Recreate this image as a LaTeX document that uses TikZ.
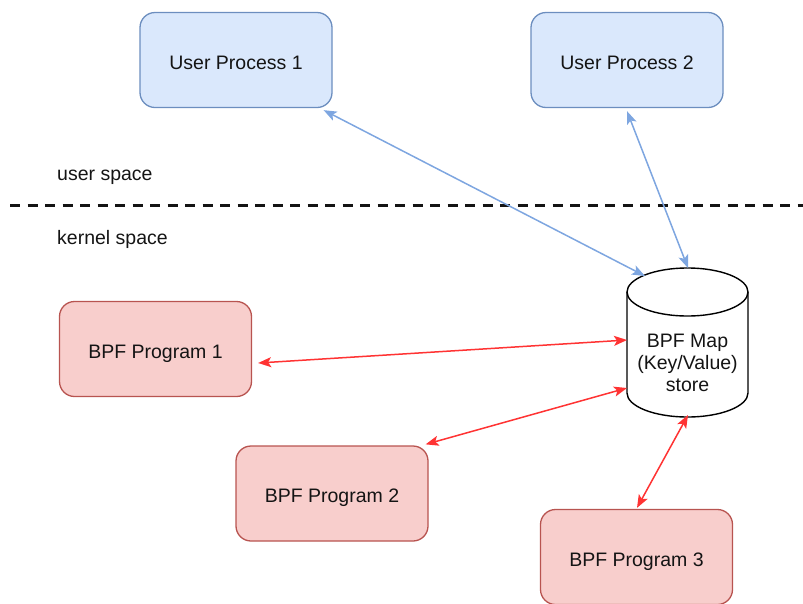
\documentclass[tikz,border=0pt]{standalone}
\usepackage{fontspec}
\setmainfont{Liberation Sans}
\usetikzlibrary{arrows.meta,calc}

\definecolor{userfill}{HTML}{DAE8FC}
\definecolor{userline}{HTML}{6C8EBF}
\definecolor{progfill}{HTML}{F8CECC}
\definecolor{progline}{HTML}{B85450}
\definecolor{bluelink}{HTML}{7EA6E0}
\definecolor{redlink}{HTML}{FF3333}
\definecolor{ink}{HTML}{141414}

\tikzset{
  box/.style={rounded corners=15pt, line width=1.3pt, minimum width=192pt,
    minimum height=95pt, align=center, text=ink, text height=18pt, text depth=0pt,
    font=\fontsize{19.5}{23.5}\selectfont},
  userbox/.style={box, draw=userline, fill=userfill},
  progbox/.style={box, draw=progline, fill=progfill},
  lbl/.style={text=ink, font=\fontsize{19.5}{23.5}\selectfont, anchor=west, inner sep=0pt},
  link/.style={line width=1.5pt, {Stealth[length=13pt,width=10pt,inset=3pt]}-{Stealth[length=13pt,width=10pt,inset=3pt]}},
  bluearrow/.style={link, draw=bluelink, fill=bluelink},
  redarrow/.style={link, draw=redlink, fill=redlink},
}

\begin{document}
\begin{tikzpicture}[x=1pt, y=-1pt]
\useasboundingbox (0,0) rectangle (803,603);

% user-side processes
\node[userbox] (up1) at (236,60) {User Process 1};
\node[userbox] (up2) at (627,60) {User Process 2};

% boundary between user and kernel space
\node[lbl] (ulabel) at (57,177) {user space};
\node[lbl] (klabel) at (57,239) {kernel space};
\coordinate (divL) at (10,205);
\coordinate (divR) at (803,205);
\draw[line width=3pt, dash pattern=on 10pt off 7.5pt, ink] (divL) -- (divR);

% BPF programs
\node[progbox] (p1) at (155.5,349) {BPF Program 1};
\node[progbox] (p2) at (332,493.5) {BPF Program 2};
\node[progbox] (p3) at (636.5,557) {BPF Program 3};

% BPF map drawn as a cylinder
\begin{scope}[line width=1.4pt, draw=black]
  \draw[fill=white] (627,292) -- (627,393)
    arc[start angle=180, end angle=360, x radius=60.5pt, y radius=24pt]
    -- (748,292)
    arc[start angle=0, end angle=180, x radius=60.5pt, y radius=24pt] -- cycle;
  \draw (627,292) arc[start angle=180, end angle=360, x radius=60.5pt, y radius=24pt];
\end{scope}
\node[minimum width=121pt, minimum height=149pt, inner sep=0pt, align=center,
      text=ink, font=\fontsize{19.5}{22}\selectfont] (map) at (687.5,363)
      {BPF Map\\(Key/Value)\\store};

% attachment points on the map
\coordinate (mUP1) at (645,276);
\coordinate (mUP2) at (688,268);
\coordinate (mP1) at (627,340);
\coordinate (mP2) at (627,388);
\coordinate (mP3) at (688,415);

% connectors
\draw[bluearrow] ($(up1.south east)+(-9,2)$) -- (mUP1);
\draw[bluearrow] ($(up2.south)+(0,3)$) -- (mUP2);
\draw[redarrow] ($(p1.east)+(6,14)$) -- (mP1);
\draw[redarrow] ($(p2.north east)+(-3,-1)$) -- (mP2);
\draw[redarrow] ($(p3.north)+(0.5,-1)$) -- (mP3);
\end{tikzpicture}
\end{document}
